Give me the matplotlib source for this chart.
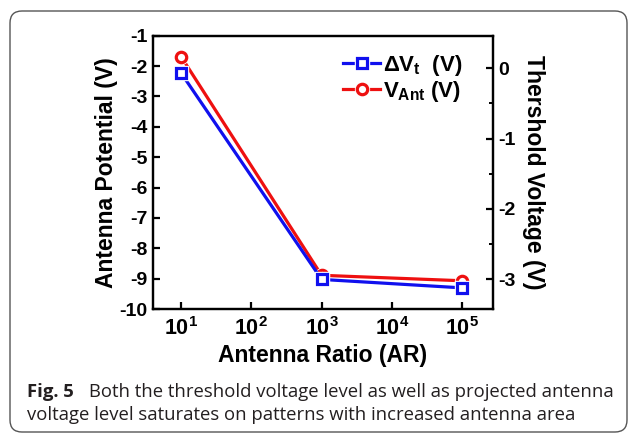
import numpy as np
import matplotlib
matplotlib.use("Agg")
import matplotlib.pyplot as plt
from matplotlib.patches import FancyBboxPatch
from matplotlib.transforms import IdentityTransform
from matplotlib.ticker import FixedLocator, FuncFormatter
from matplotlib.lines import Line2D

# antenna ratio and measured voltages
antenna_ratio = [1e1, 1e3, 1e5]
v_ant = [-1.69, -8.89, -9.07]        # antenna potential, left axis
delta_vt = [-0.07, -3.00, -3.12]     # threshold voltage shift, right axis

x_ticks = [1e1, 1e2, 1e3, 1e4, 1e5]
left_ticks = [-1, -2, -3, -4, -5, -6, -7, -8, -9, -10]
right_ticks = [0, -1, -2, -3]

caption_bold = "Fig. 5"
caption_line1 = "Both the threshold voltage level as well as projected antenna"
caption_line2 = "voltage level saturates on patterns with increased antenna area"

plt.rcParams["font.family"] = "Liberation Sans"
plt.rcParams["font.weight"] = "bold"
plt.rcParams["mathtext.fontset"] = "custom"
plt.rcParams["mathtext.rm"] = "Liberation Sans:bold"
plt.rcParams["mathtext.it"] = "Liberation Sans:bold"
plt.rcParams["mathtext.bf"] = "Liberation Sans:bold"

W, H = 630, 434
fig = plt.figure(figsize=(W / 100, H / 100), dpi=100)

# frame around the figure + caption
frame = FancyBboxPatch((10, H - 432), 617, 421,
                       boxstyle="round,pad=0,rounding_size=12",
                       transform=IdentityTransform(), fill=False,
                       edgecolor="#555555", linewidth=1.0)
fig.patches.append(frame)

ax = fig.add_axes([153 / W, 1 - 309 / H, 340 / W, (309 - 35.7) / H])
ax2 = ax.twinx()

blue = "#1010ee"
red = "#ee1010"

# lines first, then white halos so lines stop short of the symbols
ax.plot(antenna_ratio, v_ant, color=red, lw=2.3, zorder=2)
ax.plot(antenna_ratio, v_ant, ls="none", marker="o", ms=10, mfc="white",
        mec="white", zorder=3)
ax.plot(antenna_ratio, v_ant, ls="none", marker="o", ms=7.5, mfc="white",
        mec=red, mew=2.3, zorder=4)

ax2.plot(antenna_ratio, delta_vt, color=blue, lw=2.3, zorder=2)
ax2.plot(antenna_ratio, delta_vt, ls="none", marker="s", ms=10, mfc="white",
         mec="white", zorder=3)
ax2.plot(antenna_ratio, delta_vt, ls="none", marker="s", ms=7, mfc="white",
         mec=blue, mew=2.3, zorder=4)

ax.set_xscale("log")
ax.set_xlim(10 ** 0.6, 10 ** 5.44)
ax.set_ylim(-10, -1)
ax2.set_ylim(-3.42, 0.46)

ax.xaxis.set_major_locator(FixedLocator(x_ticks))
ax.xaxis.set_minor_locator(FixedLocator([]))
ax.xaxis.set_major_formatter(FuncFormatter(
    lambda v, p: r"$\mathbf{10^{%d}}$" % round(np.log10(v))))
ax.set_yticks(left_ticks)
ax.set_yticklabels([str(t) for t in left_ticks])
ax2.set_yticks(right_ticks)
ax2.set_yticklabels([str(t) for t in right_ticks])
ax2.set_yticks([-0.5, -1.5, -2.5], minor=True)

for a in (ax, ax2):
    for s in a.spines.values():
        s.set_linewidth(1.6)
    a.tick_params(direction="in", width=1.6, length=5, labelsize=14, pad=4)
    a.tick_params(which="minor", direction="in", width=1.4, length=3)
ax.tick_params(axis="x", labelsize=15.5, pad=6)
ax.tick_params(right=False, top=False)
ax2.tick_params(left=False)

ax.set_xlabel("Antenna Ratio (AR)", fontsize=16.5, fontweight="bold", labelpad=3)
ax.set_ylabel("Antenna Potential (V)", fontsize=16.5, fontweight="bold", labelpad=1)
ax2.set_ylabel("Thershold Voltage (V)", fontsize=16.5, fontweight="bold",
               rotation=-90, labelpad=21)

# legend entries: line, gap, hollow symbol
h_b = (Line2D([], [], color=blue, lw=2.3),
       Line2D([], [], ls="none", marker="s", ms=10, mfc="white", mec="white"),
       Line2D([], [], ls="none", marker="s", ms=7, mfc="white", mec=blue, mew=2.3))
h_r = (Line2D([], [], color=red, lw=2.3),
       Line2D([], [], ls="none", marker="o", ms=10, mfc="white", mec="white"),
       Line2D([], [], ls="none", marker="o", ms=7.5, mfc="white", mec=red, mew=2.3))
leg = ax.legend([h_b, h_r], [r"$\Delta V_t$  (V)", r"$V_{Ant}$ (V)"],
                loc="upper right", bbox_to_anchor=(0.95, 0.985), frameon=False,
                fontsize=16, handlelength=1.65, handletextpad=0.15,
                labelspacing=0.05, borderaxespad=0.2)
leg.set_zorder(10)

# caption
cap_color = "#231f20"
fig.text(27 / W, 1 - 392 / H, caption_bold, fontsize=13.3, fontweight="bold",
         family="Open Sans", color=cap_color, va="center")
fig.text(89 / W, 1 - 392 / H, caption_line1, fontsize=13.3, fontweight="normal",
         family="Open Sans", color=cap_color, va="center")
fig.text(27 / W, 1 - 415 / H, caption_line2, fontsize=13.3, fontweight="normal",
         family="Open Sans", color=cap_color, va="center")

fig.savefig("out.png", dpi=100)
